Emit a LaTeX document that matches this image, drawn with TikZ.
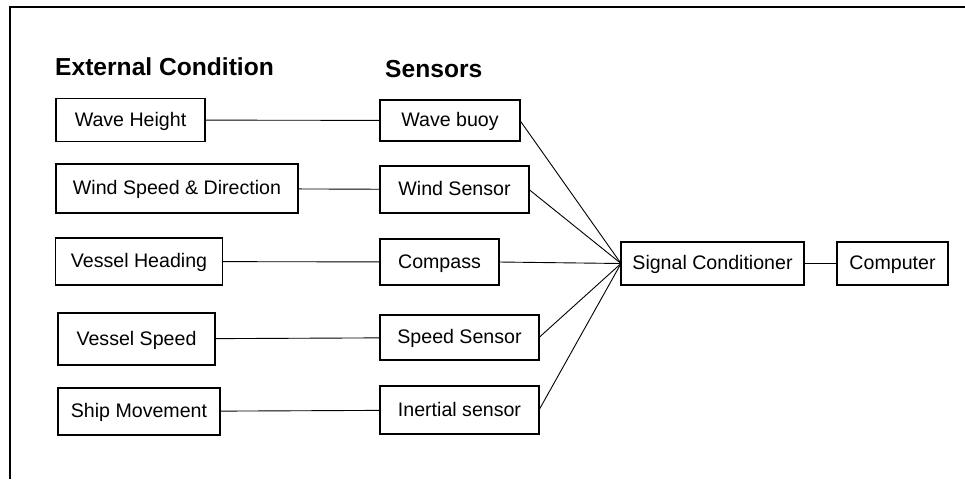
\documentclass[tikz,border=0pt]{standalone}
\usepackage{fontspec}
\setmainfont{Liberation Sans}
\usepackage{tikz}
\usetikzlibrary{positioning}
\tikzset{
  blk/.style={draw,line width=1.2pt,inner sep=0pt,outer sep=0pt,
    text height=14pt,text depth=1.5pt,
    font=\fontsize{19.6}{22}\selectfont},
  hdr/.style={anchor=base west,inner sep=0pt,font=\fontsize{24.6}{28}\selectfont\bfseries},
  wire/.style={line width=0.9pt}
}
\begin{document}
\begin{tikzpicture}[x=1pt,y=-1pt]
\useasboundingbox (0,0) rectangle (965,479);
% outer frame (only left and top)
\draw[line width=1.2pt] (10,479) -- (10,7) -- (966,7);
% headings
\node[hdr] (hext) at (55,75) {External Condition};
\node[hdr] (hsen) at (385,77) {Sensors};
% external conditions
\node[blk,minimum width=149,minimum height=43] (wh) at (130.5,120) {Wave Height};
\node[blk,minimum width=242,minimum height=49] (ws) at (177,188.5) {Wind Speed \& Direction};
\node[blk,minimum width=167,minimum height=47] (vh) at (139,261.5) {Vessel Heading};
\node[blk,minimum width=157,minimum height=52] (vs) at (136.5,339) {Vessel Speed};
\node[blk,minimum width=162,minimum height=47] (sm) at (139,411.5) {Ship Movement};
% sensors
\node[blk,minimum width=140,minimum height=41] (wb) at (450,120.5) {Wave buoy};
\node[blk,minimum width=149,minimum height=47] (wn) at (454.5,189.5) {Wind Sensor};
\node[blk,minimum width=119,minimum height=46] (cp) at (439.5,262) {Compass};
\node[blk,minimum width=159,minimum height=45] (sp) at (459.5,337.5) {Speed Sensor};
\node[blk,minimum width=159,minimum height=48] (is) at (459.5,410) {Inertial sensor};
% processing
\node[blk,minimum width=183,minimum height=43] (sc) at (712.5,263.5) {Signal Conditioner};
\node[blk,minimum width=111,minimum height=43] (pc) at (892.5,263.5) {Computer};
% links
\draw[wire] (wh) -- (wb);
\draw[wire] (ws) -- (wn);
\draw[wire] (vh) -- (cp);
\draw[wire] (vs) -- (sp);
\draw[wire] (sm) -- (is);
\draw[wire] (wb.east) -- (sc.west);
\draw[wire] (wn.east) -- (sc.west);
\draw[wire] (cp.east) -- (sc.west);
\draw[wire] (sp.east) -- (sc.west);
\draw[wire] (is.east) -- (sc.west);
\draw[wire] (sc) -- (pc);
\end{tikzpicture}
\end{document}
